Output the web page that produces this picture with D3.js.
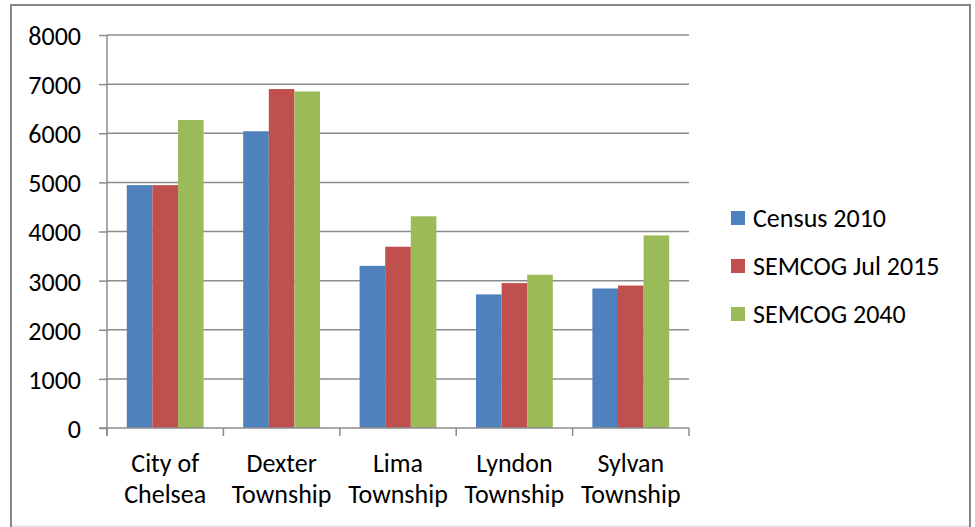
<!DOCTYPE html>
<html>
<head>
<meta charset="utf-8">
<script src="https://cdn.jsdelivr.net/npm/d3@7"></script>
<style>
  body { margin: 0; background: #fff; }
  text { font-family: Carlito, Lato, "Open Sans", sans-serif; fill: #000; }
</style>
</head>
<body>
<div id="graph"></div>
<script>

// data
var categories = [["City of", "Chelsea"], ["Dexter", "Township"], ["Lima", "Township"],
                  ["Lyndon", "Township"], ["Sylvan", "Township"]];
var seriesNames = ["Census 2010", "SEMCOG Jul 2015", "SEMCOG 2040"];
var census2010 = [4944, 6040, 3300, 2720, 2840];
var semcog2015 = [4944, 6900, 3690, 2950, 2900];
var semcog2040 = [6270, 6850, 4310, 3120, 3920];
var yTicks = [0, 1000, 2000, 3000, 4000, 5000, 6000, 7000, 8000];
var colors = ["#4F81BD", "#C0504D", "#9BBB59"];

var W = 975, H = 527;
var plotLeft = 107, plotRight = 689, plotTop = 35, plotBottom = 428;
var fontSize = "26px";

var svg = d3.select("#graph")
  .append("svg")
    .attr("width", W)
    .attr("height", H);

// outer frame
svg.append("rect")
  .attr("x", 11).attr("y", 5)
  .attr("width", 959).attr("height", 540)
  .attr("fill", "none")
  .attr("stroke", "#878787")
  .attr("stroke-width", 2);
svg.append("line")
  .attr("x1", 12).attr("x2", 969)
  .attr("y1", 526).attr("y2", 526)
  .attr("stroke", "#d9d9d9");

var keys = categories.map(function(c) { return c.join(" "); });

var x = d3.scaleBand()
  .domain(keys)
  .range([plotLeft, plotRight])
  .paddingInner(0.34)
  .paddingOuter(0.17);

var xs = d3.scaleBand()
  .domain(seriesNames)
  .range([0, x.bandwidth()]);

var y = d3.scaleLinear()
  .domain([0, 8000])
  .range([plotBottom, plotTop]);

// gridlines
svg.append("g")
  .selectAll("line")
  .data(yTicks.slice(1))
  .enter().append("line")
    .attr("x1", plotLeft).attr("x2", plotRight)
    .attr("y1", function(d) { return y(d); })
    .attr("y2", function(d) { return y(d); })
    .attr("stroke", "#8c8c8c")
    .attr("stroke-width", 1.5);

// bars
var table = keys.map(function(k, i) {
  return { key: k, values: [census2010[i], semcog2015[i], semcog2040[i]] };
});

svg.append("g")
  .selectAll("g")
  .data(table)
  .enter().append("g")
    .attr("transform", function(d) { return "translate(" + x(d.key) + ",0)"; })
  .selectAll("rect")
  .data(function(d) { return d.values.map(function(v, j) { return { s: seriesNames[j], v: v, j: j }; }); })
  .enter().append("rect")
    .attr("x", function(d) { return xs(d.s); })
    .attr("width", xs.bandwidth())
    .attr("y", function(d) { return y(d.v); })
    .attr("height", function(d) { return y(0) - y(d.v); })
    .attr("fill", function(d) { return colors[d.j]; });

// y axis
var yAxis = svg.append("g")
  .attr("transform", "translate(" + plotLeft + ",0)")
  .call(d3.axisLeft(y).tickValues(yTicks).tickSize(8).tickPadding(18).tickFormat(d3.format("d")));
yAxis.select(".domain").attr("stroke", "#8c8c8c").attr("stroke-width", 1.5)
  .attr("d", "M0," + (plotBottom + 8) + "V" + plotTop);
yAxis.selectAll(".tick line").attr("stroke", "#8c8c8c").attr("stroke-width", 1.5);
yAxis.selectAll(".tick text")
  .style("font-family", "Carlito, Lato, sans-serif")
  .style("font-size", fontSize)
  .attr("fill", "#000")
  .attr("dy", "0.36em");

// x axis with tick marks at band boundaries
svg.append("line")
  .attr("x1", plotLeft - 8).attr("x2", plotRight)
  .attr("y1", plotBottom).attr("y2", plotBottom)
  .attr("stroke", "#8c8c8c").attr("stroke-width", 1.5);

var bounds = keys.map(function(k) { return x(k) - x.step() * x.paddingInner() / 2; });
bounds.push(plotRight);
svg.append("g")
  .selectAll("line")
  .data(bounds)
  .enter().append("line")
    .attr("x1", function(d) { return d; })
    .attr("x2", function(d) { return d; })
    .attr("y1", plotBottom).attr("y2", plotBottom + 8)
    .attr("stroke", "#8c8c8c").attr("stroke-width", 1.5);

// category labels, two lines
var labels = svg.append("g")
  .selectAll("text")
  .data(categories)
  .enter().append("text")
    .attr("text-anchor", "middle")
    .style("font-size", fontSize)
    .attr("x", function(d) { return x(d.join(" ")) + x.bandwidth() / 2; })
    .attr("y", 472);
labels.each(function(d) {
  var t = d3.select(this);
  d.forEach(function(line, i) {
    t.append("tspan")
      .attr("x", t.attr("x"))
      .attr("y", 472 + i * 30.5)
      .text(line);
  });
});

// legend
var legend = svg.append("g")
  .selectAll("g")
  .data(seriesNames)
  .enter().append("g")
    .attr("transform", function(d, i) { return "translate(731," + (211 + i * 48) + ")"; });
legend.append("rect")
  .attr("width", 14).attr("height", 14)
  .attr("fill", function(d, i) { return colors[i]; });
legend.append("text")
  .attr("x", 22).attr("y", 16)
  .style("font-size", fontSize)
  .text(function(d) { return d; });

</script>
</body>
</html>
